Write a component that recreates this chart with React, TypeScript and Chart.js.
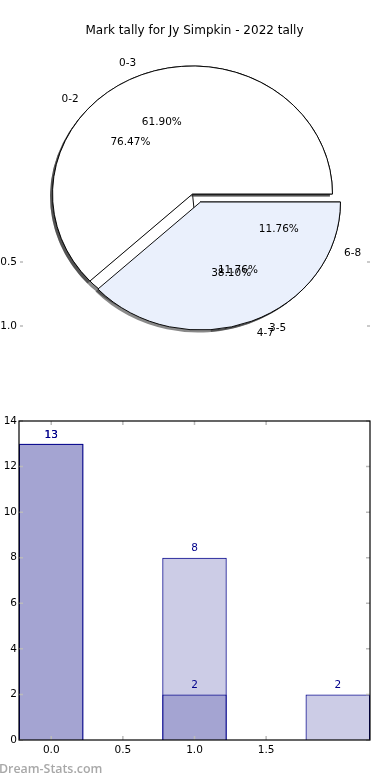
import React, { useEffect, useRef } from 'react';
import { Chart, registerables } from 'chart.js';

Chart.register(...registerables);

// ---------------- data ----------------
const TITLE = 'Mark tally for Jy Simpkin - 2022 tally';
const pieACategories = ['0-3', '4-7'];
const pieAValues = [13, 8];
const pieBCategories = ['0-2', '3-5', '6-8'];
const pieBValues = [13, 2, 2];
const barXPositions = [0, 1, 2];
const xTickValues = [0, 0.5, 1.0, 1.5];
const yTickValues = [0, 2, 4, 6, 8, 10, 12, 14];
const ghostAxisTicks = [0.5, 1.0];
const WATERMARK = 'Dream-Stats.com';

// ---------------- styles ----------------
const FONT = '"DejaVu Sans", sans-serif';
const LABEL_SIZE = 10.5;
const PIE_FILLS_A = ['#ffffff', '#eaf0fc'];
const PIE_FILLS_B = ['#ffffff', '#eaf0fc', '#eaf0fc'];
const BAR_FILL = 'rgba(0, 0, 128, 0.2)';
const BAR_EDGE = '#00008b';
const X_STRETCH = 140.5 / 128.5;
const PIE_R = 128;
const SHIFT = 8;
const AXIS_LEFT = 19;
const AXIS_RIGHT = 370;

const rev = <T,>(a: T[]) => [...a].reverse();

const piePlugin = {
  id: 'pieGeometry',
  afterDatasetsUpdate(chart: any) {
    chart.data.datasets.forEach((ds: any, i: number) => {
      const meta = chart.getDatasetMeta(i);
      const n = ds.data.length;
      meta.data.forEach((el: any, j: number) => {
        const k = n - 1 - j; // original (counter-clockwise) index
        el.innerRadius = 0;
        el.outerRadius = PIE_R;
        if (k > 0) {
          el.x += SHIFT / X_STRETCH;
          el.y += SHIFT;
        }
      });
    });
  },
  beforeDatasetsDraw(chart: any) {
    const ctx = chart.ctx;
    const ca = chart.chartArea;
    const cx = (ca.left + ca.right) / 2;
    ctx.save();
    ctx.translate(cx, 0);
    ctx.scale(X_STRETCH, 1);
    ctx.translate(-cx, 0);
    ctx.shadowColor = 'rgba(40,40,40,0.55)';
    ctx.shadowOffsetX = -2.5;
    ctx.shadowOffsetY = 2.5;
    ctx.shadowBlur = 0;
    // shadows only under the wedge faces, not their outlines
    const origStroke = ctx.stroke;
    (ctx as any).__origStroke = origStroke;
    ctx.stroke = function (...args: any[]) {
      const prev = ctx.shadowColor;
      ctx.shadowColor = 'rgba(0,0,0,0)';
      origStroke.apply(ctx, args as any);
      ctx.shadowColor = prev;
    } as any;
  },
  afterDatasetsDraw(chart: any) {
    const ctx = chart.ctx;
    if ((ctx as any).__origStroke) {
      ctx.stroke = (ctx as any).__origStroke;
      delete (ctx as any).__origStroke;
    }
    ctx.restore();
    const ca = chart.chartArea;
    const cx = (ca.left + ca.right) / 2;
    const cy = (ca.top + ca.bottom) / 2;
    ctx.save();
    ctx.fillStyle = '#000';
    ctx.font = `${LABEL_SIZE}px ${FONT}`;
    ctx.textBaseline = 'middle';
    for (let i = chart.data.datasets.length - 1; i >= 0; i--) {
      const ds = chart.data.datasets[i];
      const meta = chart.getDatasetMeta(i);
      const total = ds.data.reduce((s: number, v: number) => s + v, 0);
      meta.data.forEach((el: any, j: number) => {
        const mid = (el.startAngle + el.endAngle) / 2;
        const ex = cx + (el.x - cx) * X_STRETCH;
        const ey = el.y;
        const c = Math.cos(mid);
        const s = Math.sin(mid);
        ctx.textAlign = 'center';
        const pct = ((ds.data[j] / total) * 100).toFixed(2) + '%';
        ctx.fillText(pct, ex + 0.6 * PIE_R * X_STRETCH * c, ey + 0.6 * PIE_R * s);
        ctx.textAlign = c > 0 ? 'left' : 'right';
        ctx.fillText(ds.names[j], ex + 1.1 * PIE_R * X_STRETCH * c, ey + 1.1 * PIE_R * s);
      });
    }
    // leftover axis ticks of the pie's axes
    ctx.textAlign = 'right';
    ghostAxisTicks.forEach((v) => {
      const y = cy + 4 + v * PIE_R;
      ctx.fillStyle = '#000';
      ctx.fillText(v.toFixed(1), AXIS_LEFT - 2, y);
      ctx.strokeStyle = '#bbbbbb';
      ctx.lineWidth = 1.5;
      ctx.beginPath();
      ctx.moveTo(AXIS_LEFT + 1, y);
      ctx.lineTo(AXIS_LEFT + 4, y);
      ctx.moveTo(AXIS_RIGHT - 3, y);
      ctx.lineTo(AXIS_RIGHT, y);
      ctx.stroke();
    });
    ctx.restore();
  },
};

const barPlugin = {
  id: 'barDecor',
  afterDatasetsDraw(chart: any) {
    const ctx = chart.ctx;
    ctx.save();
    ctx.fillStyle = BAR_EDGE;
    ctx.font = `${LABEL_SIZE}px ${FONT}`;
    ctx.textAlign = 'center';
    ctx.textBaseline = 'middle';
    chart.data.datasets.forEach((ds: any, i: number) => {
      const meta = chart.getDatasetMeta(i);
      meta.data.forEach((el: any, j: number) => {
        ctx.fillText(String(ds.data[j].y), el.x, el.y - 9);
      });
    });
    ctx.restore();
  },
  afterDraw(chart: any) {
    const ctx = chart.ctx;
    const { left, right, top, bottom } = chart.chartArea;
    const xs = chart.scales.x;
    const ys = chart.scales.y;
    ctx.save();
    ctx.strokeStyle = '#bbbbbb';
    ctx.lineWidth = 1.5;
    ctx.beginPath();
    xTickValues.forEach((v) => {
      const px = xs.getPixelForValue(v);
      ctx.moveTo(px, top);
      ctx.lineTo(px, top + 4);
      ctx.moveTo(px, bottom);
      ctx.lineTo(px, bottom - 4);
    });
    yTickValues.forEach((v) => {
      const py = ys.getPixelForValue(v);
      ctx.moveTo(left, py);
      ctx.lineTo(left + 4, py);
      ctx.moveTo(right, py);
      ctx.lineTo(right - 4, py);
    });
    ctx.stroke();
    ctx.strokeStyle = '#000';
    ctx.lineWidth = 1.2;
    ctx.strokeRect(left, top, right - left, bottom - top);
    ctx.restore();
  },
};

function PieChart() {
  const ref = useRef<HTMLCanvasElement>(null);
  useEffect(() => {
    if (!ref.current) return;
    const chart = new Chart(ref.current, {
      type: 'pie',
      data: {
        labels: rev(pieBCategories),
        datasets: [
          {
            data: rev(pieAValues),
            names: rev(pieACategories),
            backgroundColor: rev(PIE_FILLS_A),
            borderColor: '#000',
            borderWidth: 0.9,
            clip: false,
          } as any,
          {
            data: rev(pieBValues),
            names: rev(pieBCategories),
            backgroundColor: rev(PIE_FILLS_B),
            borderColor: '#000',
            borderWidth: 0.9,
            clip: false,
          } as any,
        ],
      },
      options: {
        animation: false,
        responsive: false,
        events: [],
        rotation: 90,
        radius: PIE_R,
        layout: { padding: { left: 0, right: 5, top: 0, bottom: 12 } },
        plugins: { legend: { display: false }, tooltip: { enabled: false } },
      } as any,
      plugins: [piePlugin],
    });
    return () => chart.destroy();
  }, []);
  return (
    <canvas
      ref={ref}
      width={390}
      height={400}
      style={{ position: 'absolute', left: 0, top: 0, width: 390, height: 400 }}
    />
  );
}

function BarChart() {
  const ref = useRef<HTMLCanvasElement>(null);
  useEffect(() => {
    if (!ref.current) return;
    const common = {
      backgroundColor: BAR_FILL,
      borderColor: BAR_EDGE,
      borderWidth: 1,
      grouped: false,
      barPercentage: 0.9,
      categoryPercentage: 1,
    };
    const chart = new Chart(ref.current, {
      type: 'bar',
      data: {
        datasets: [
          { ...common, data: pieAValues.map((v, i) => ({ x: barXPositions[i], y: v })) } as any,
          { ...common, data: pieBValues.map((v, i) => ({ x: barXPositions[i], y: v })) } as any,
        ],
      },
      options: {
        animation: false,
        responsive: false,
        events: [],
        layout: { padding: { left: 0, right: 390 - AXIS_RIGHT, top: 21, bottom: 0 } },
        plugins: { legend: { display: false }, tooltip: { enabled: false } },
        scales: {
          x: {
            type: 'linear',
            offset: false,
            min: -0.225,
            max: 2.225,
            grid: { display: false, drawTicks: false },
            border: { display: false },
            afterBuildTicks: (s: any) => {
              s.ticks = xTickValues.map((v) => ({ value: v }));
            },
            afterFit: (s: any) => {
              s.height = 40;
            },
            ticks: {
              autoSkip: false,
              maxRotation: 0,
              padding: 4,
              color: '#000',
              font: { family: FONT, size: LABEL_SIZE },
              callback: (v: any) => Number(v).toFixed(1),
            },
          },
          y: {
            type: 'linear',
            min: 0,
            max: 14,
            grid: { display: false, drawTicks: false },
            border: { display: false },
            afterBuildTicks: (s: any) => {
              s.ticks = yTickValues.map((v) => ({ value: v }));
            },
            afterFit: (s: any) => {
              s.width = AXIS_LEFT;
            },
            ticks: {
              padding: 2,
              color: '#000',
              font: { family: FONT, size: LABEL_SIZE },
              callback: (v: any) => String(v),
            },
          },
        },
      } as any,
      plugins: [barPlugin],
    });
    return () => chart.destroy();
  }, []);
  return (
    <canvas
      ref={ref}
      width={390}
      height={380}
      style={{ position: 'absolute', left: 0, top: 400, width: 390, height: 380 }}
    />
  );
}

export default function App() {
  return (
    <div
      style={{
        position: 'absolute',
        left: 0,
        top: 0,
        width: 390,
        height: 780,
        background: '#fff',
        overflow: 'hidden',
        fontFamily: FONT,
      }}
    >
      <PieChart />
      <BarChart />
      <div
        style={{
          position: 'absolute',
          left: 0,
          top: 22,
          width: 389,
          textAlign: 'center',
          fontSize: 12,
          lineHeight: '16px',
          color: '#000',
        }}
      >
        {TITLE}
      </div>
      <div
        style={{
          position: 'absolute',
          left: -1,
          top: 761,
          fontFamily: '"Open Sans", sans-serif',
          fontWeight: 600,
          fontSize: 12.4,
          lineHeight: '16px',
          color: '#a8a8a8',
        }}
      >
        {WATERMARK}
      </div>
    </div>
  );
}
